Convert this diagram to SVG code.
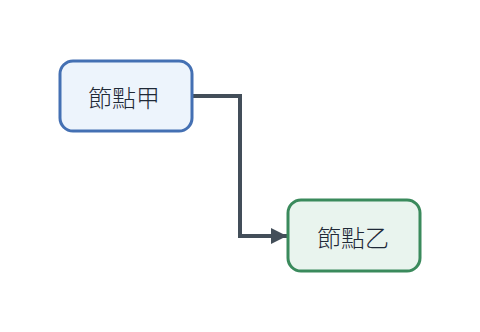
<svg xmlns="http://www.w3.org/2000/svg" width="480" height="332" viewBox="0 0 480 332">
<style>
.node rect{stroke-width:3}
.lbl{font-family:"Noto Sans CJK TC","Noto Sans CJK SC",sans-serif;font-size:24px;font-weight:300;fill:#1f2937;text-anchor:middle;dominant-baseline:central}
.edge{fill:none;stroke:#434e59;stroke-width:4}
</style>
<defs>
<marker id="arr" markerWidth="4" markerHeight="4" refX="4" refY="2" orient="auto" markerUnits="strokeWidth">
<path d="M0,0 L4,2 L0,4 Z" fill="#434e59"/>
</marker>
</defs>
<g id="connectors">
<path class="edge" d="M192,96 H240 V236 H287" marker-end="url(#arr)"/>
</g>
<g id="nodeA" class="node">
<rect x="60" y="61" width="132" height="70" rx="13" fill="#edf4fc" stroke="#4470b3"/>
<text class="lbl" x="124" y="96">節點甲</text>
</g>
<g id="nodeB" class="node">
<rect x="288" y="200" width="132" height="71" rx="13" fill="#e9f4ee" stroke="#3a8a5c"/>
<text class="lbl" x="353" y="236">節點乙</text>
</g>
</svg>
